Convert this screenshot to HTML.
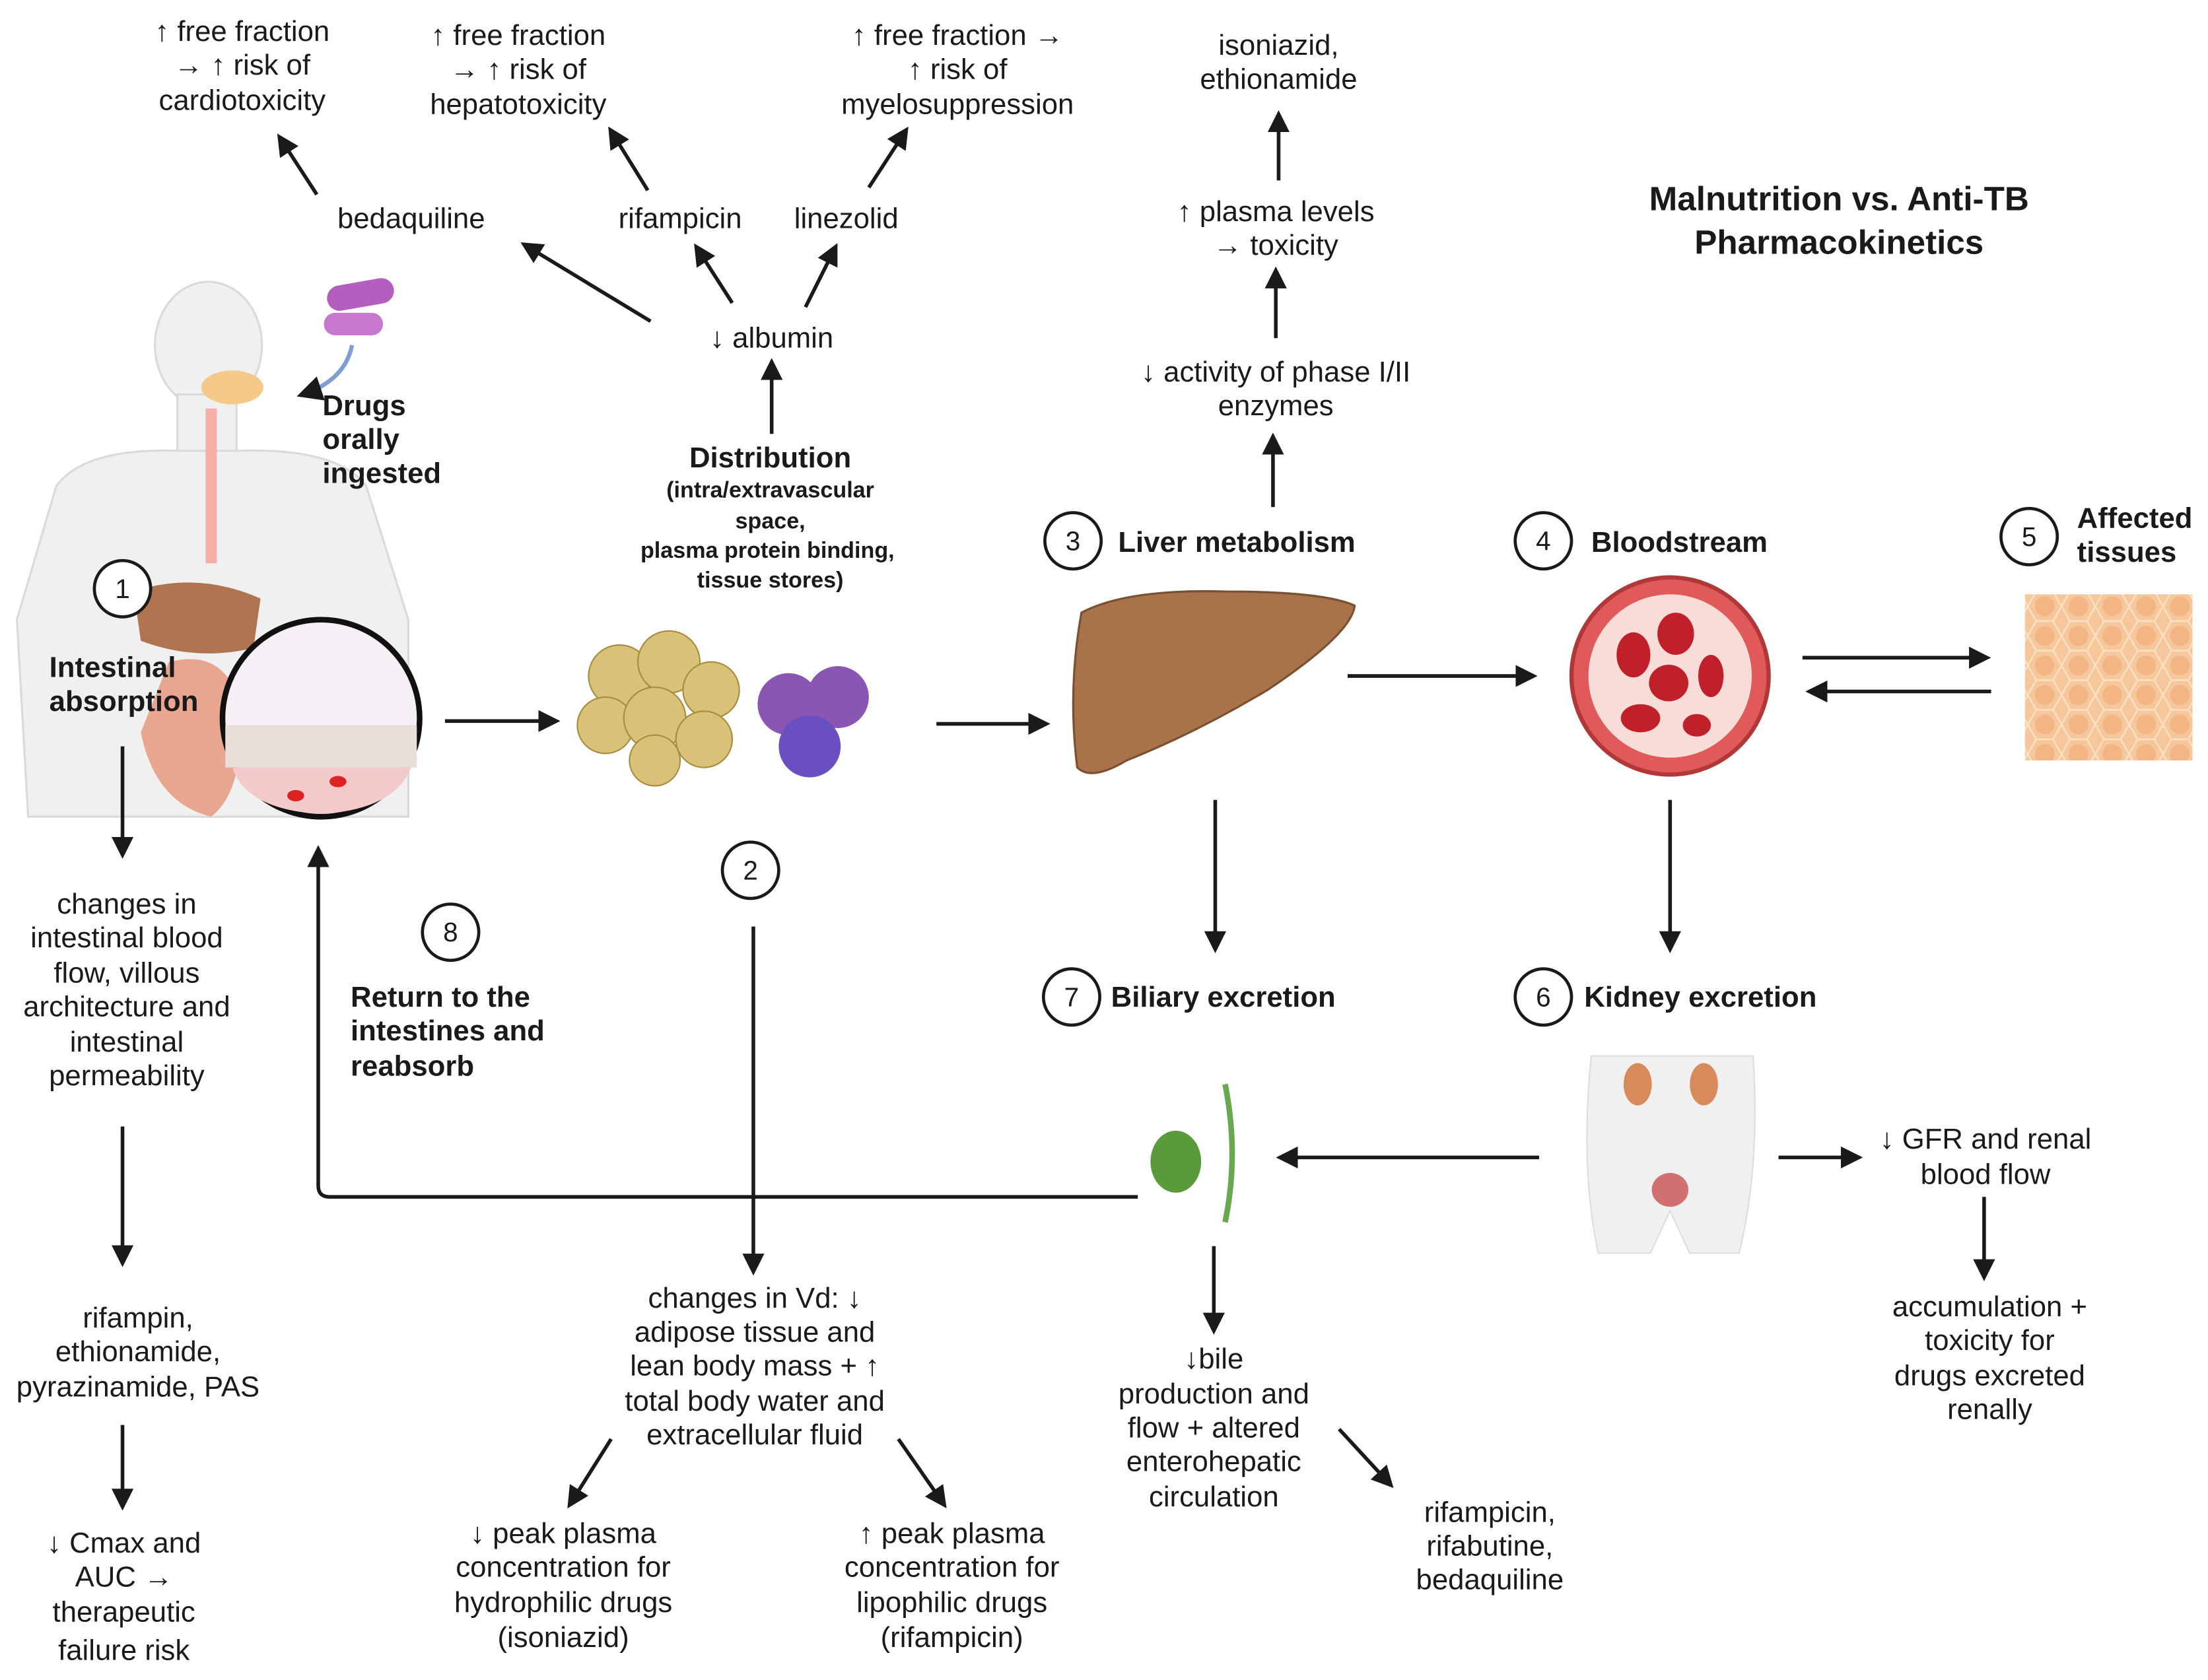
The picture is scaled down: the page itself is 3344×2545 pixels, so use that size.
<!DOCTYPE html>
<html><head><meta charset="utf-8"><style>
html,body{margin:0;padding:0;background:#fff;}
svg{display:block;}
text{font-family:"Liberation Sans",sans-serif;fill:#1a1a1a;dominant-baseline:central;}
.t{font-size:20.5px;text-anchor:middle;}
.b{font-size:20.5px;font-weight:bold;}
.s{font-size:16px;font-weight:bold;text-anchor:middle;}
.a{stroke:#1a1a1a;stroke-width:2.6;fill:none;marker-end:url(#ah);}
.c{fill:#fff;stroke:#1a1a1a;stroke-width:2.2;}
.n{font-size:19px;text-anchor:middle;}
</style></head><body>
<svg width="3344" height="2545" viewBox="0 0 1568 1193" xmlns="http://www.w3.org/2000/svg">
<defs><marker id="ah" markerWidth="6" markerHeight="6" refX="4.5" refY="3" orient="auto" markerUnits="strokeWidth"><path d="M0,0 L6,3 L0,6 z" fill="#1a1a1a"/></marker>
<pattern id="hex" width="24" height="21" patternUnits="userSpaceOnUse"><rect width="24" height="21" fill="#f6c79a"/><circle cx="12" cy="10.5" r="7" fill="#f2b583"/><path d="M6,0 L18,0 L24,10.5 L18,21 L6,21 L0,10.5Z" fill="none" stroke="#fbe0c4" stroke-width="1.2"/></pattern></defs>

<!-- body silhouette -->
<g fill="#f0f0f0" stroke="#dadada" stroke-width="1.5">
<ellipse cx="148" cy="245" rx="38" ry="45"/>
<rect x="126" y="280" width="42" height="50"/>
<path d="M40,345 Q60,318 126,320 L170,320 Q240,318 260,345 L290,440 L290,580 L20,580 L12,440 Z"/>
</g>
<path d="M150,290 L150,400" stroke="#f2b0a8" stroke-width="8" fill="none"/>
<ellipse cx="165" cy="275" rx="22" ry="12" fill="#f4c98a"/>
<path d="M95,420 Q140,405 185,425 L180,460 Q140,470 100,455 Z" fill="#b07550"/>
<path d="M120,470 Q160,460 170,500 Q175,560 150,580 Q110,570 100,520 Z" fill="#e8a58f"/>
<!-- pills -->
<rect x="232" y="200" width="48" height="18" rx="9" fill="#b45fc0" transform="rotate(-10 256 209)"/>
<rect x="230" y="222" width="42" height="16" rx="8" fill="#c777cf"/>
<path d="M250,245 Q245,270 215,280" stroke="#7f9ed6" stroke-width="3" fill="none" marker-end="url(#ah)"/>
<!-- gut circle -->
<circle cx="228" cy="510" r="70" fill="#f6f0f6" stroke="#111" stroke-width="4"/>
<rect x="160" y="515" width="136" height="30" fill="#e8e0d8"/>
<path d="M165,545 L292,545 Q280,575 228,578 Q175,575 165,545Z" fill="#f3c9c9"/>
<ellipse cx="240" cy="555" rx="6" ry="4" fill="#d22"/><ellipse cx="210" cy="565" rx="6" ry="4" fill="#d22"/>

<!-- fat cluster -->
<g fill="#d9c278" stroke="#a58d3e" stroke-width="1">
<circle cx="440" cy="480" r="22"/><circle cx="475" cy="470" r="22"/><circle cx="505" cy="490" r="20"/>
<circle cx="430" cy="515" r="20"/><circle cx="465" cy="510" r="22"/><circle cx="500" cy="525" r="20"/><circle cx="465" cy="540" r="18"/>
</g>
<circle cx="560" cy="500" r="22" fill="#8a56b3"/><circle cx="595" cy="495" r="22" fill="#8a56b3"/><circle cx="575" cy="530" r="22" fill="#6a4fc0"/>

<!-- liver -->
<path d="M768,435 Q800,418 870,420 Q940,420 962,430 Q960,450 900,490 Q850,520 800,540 Q775,555 765,545 Q758,490 768,435Z" fill="#a8724a" stroke="#7a5030" stroke-width="1.5"/>
<!-- blood vessel -->
<circle cx="1186" cy="480" r="70" fill="#e05a5a" stroke="#b03838" stroke-width="3"/>
<circle cx="1186" cy="480" r="58" fill="#f7dcd8"/>
<g fill="#c0202a"><ellipse cx="1160" cy="465" rx="12" ry="16"/><ellipse cx="1190" cy="450" rx="13" ry="15"/><ellipse cx="1185" cy="485" rx="14" ry="13"/><ellipse cx="1215" cy="480" rx="9" ry="15"/><ellipse cx="1165" cy="510" rx="14" ry="10"/><ellipse cx="1205" cy="515" rx="10" ry="8"/></g>
<!-- tissue -->
<rect x="1438" y="422" width="119" height="118" fill="url(#hex)"/>
<!-- kidney figure -->
<path d="M1130,750 L1245,750 Q1250,830 1235,890 L1200,890 L1186,860 L1172,890 L1135,890 Q1122,830 1130,750Z" fill="#f0f0f0" stroke="#ddd"/>
<ellipse cx="1163" cy="770" rx="10" ry="15" fill="#d98a5a"/><ellipse cx="1210" cy="770" rx="10" ry="15" fill="#d98a5a"/>
<ellipse cx="1186" cy="845" rx="13" ry="12" fill="#d07070"/>
<!-- gallbladder -->
<path d="M870,770 Q880,820 870,868" stroke="#6aa84f" stroke-width="4" fill="none"/>
<ellipse cx="835" cy="825" rx="18" ry="22" fill="#5a9a3a"/>

<!-- circles -->
<circle class="c" cx="87" cy="418" r="20"/><text class="n" x="87" y="418">1</text>
<circle class="c" cx="533" cy="618" r="20"/><text class="n" x="533" y="618">2</text>
<circle class="c" cx="762" cy="384" r="20"/><text class="n" x="762" y="384">3</text>
<circle class="c" cx="1096" cy="384" r="20"/><text class="n" x="1096" y="384">4</text>
<circle class="c" cx="1441" cy="381" r="20"/><text class="n" x="1441" y="381">5</text>
<circle class="c" cx="1096" cy="708" r="20"/><text class="n" x="1096" y="708">6</text>
<circle class="c" cx="761" cy="708" r="20"/><text class="n" x="761" y="708">7</text>
<circle class="c" cx="320" cy="662" r="20"/><text class="n" x="320" y="662">8</text>

<!-- labels -->
<text class="b" x="794" y="385">Liver metabolism</text>
<text class="b" x="1130" y="385">Bloodstream</text>
<text class="b" x="1475" y="368">Affected</text><text class="b" x="1475" y="392">tissues</text>
<text class="b" x="1125" y="708">Kidney excretion</text>
<text class="b" x="789" y="708">Biliary excretion</text>
<text class="b" x="249" y="708">Return to the</text><text class="b" x="249" y="732">intestines and</text><text class="b" x="249" y="757">reabsorb</text>
<text class="b" x="35" y="474">Intestinal</text><text class="b" x="35" y="498">absorption</text>
<text class="b" x="229" y="288">Drugs</text><text class="b" x="229" y="312">orally</text><text class="b" x="229" y="336">ingested</text>
<text class="b" x="1306" y="141" style="font-size:24px;text-anchor:middle">Malnutrition vs. Anti-TB</text>
<text class="b" x="1306" y="172" style="font-size:24px;text-anchor:middle">Pharmacokinetics</text>
<text class="b" x="547" y="325" style="text-anchor:middle">Distribution</text>
<text class="s" x="547" y="348">(intra/extravascular</text><text class="s" x="547" y="370">space,</text>
<text class="s" x="545" y="391">plasma protein binding,</text><text class="s" x="547" y="412">tissue stores)</text>

<!-- top texts -->
<text class="t" x="172" y="22">↑ free fraction</text><text class="t" x="172" y="46">→ ↑ risk of</text><text class="t" x="172" y="71">cardiotoxicity</text>
<text class="t" x="368" y="25">↑ free fraction</text><text class="t" x="368" y="49">→ ↑ risk of</text><text class="t" x="368" y="74">hepatotoxicity</text>
<text class="t" x="680" y="25">↑ free fraction →</text><text class="t" x="680" y="49">↑ risk of</text><text class="t" x="680" y="74">myelosuppression</text>
<text class="t" x="908" y="32">isoniazid,</text><text class="t" x="908" y="56">ethionamide</text>
<text class="t" x="292" y="155">bedaquiline</text><text class="t" x="483" y="155">rifampicin</text><text class="t" x="601" y="155">linezolid</text>
<text class="t" x="548" y="240">↓ albumin</text>
<text class="t" x="906" y="150">↑ plasma levels</text><text class="t" x="906" y="174">→ toxicity</text>
<text class="t" x="906" y="264">↓ activity of phase I/II</text><text class="t" x="906" y="288">enzymes</text>

<text class="t" x="90" y="642">changes in</text><text class="t" x="90" y="666">intestinal blood</text><text class="t" x="90" y="691">flow, villous</text><text class="t" x="90" y="715">architecture and</text><text class="t" x="90" y="740">intestinal</text><text class="t" x="90" y="764">permeability</text>
<text class="t" x="98" y="936">rifampin,</text><text class="t" x="98" y="960">ethionamide,</text><text class="t" x="98" y="985">pyrazinamide, PAS</text>
<text class="t" x="88" y="1096">↓ Cmax and</text><text class="t" x="88" y="1120">AUC →</text><text class="t" x="88" y="1145">therapeutic</text><text class="t" x="88" y="1172">failure risk</text>
<text class="t" x="536" y="922">changes in Vd: ↓</text><text class="t" x="536" y="946">adipose tissue and</text><text class="t" x="536" y="970">lean body mass + ↑</text><text class="t" x="536" y="995">total body water and</text><text class="t" x="536" y="1019">extracellular fluid</text>
<text class="t" x="400" y="1089">↓ peak plasma</text><text class="t" x="400" y="1113">concentration for</text><text class="t" x="400" y="1138">hydrophilic drugs</text><text class="t" x="400" y="1163">(isoniazid)</text>
<text class="t" x="676" y="1089">↑ peak plasma</text><text class="t" x="676" y="1113">concentration for</text><text class="t" x="676" y="1138">lipophilic drugs</text><text class="t" x="676" y="1163">(rifampicin)</text>
<text class="t" x="862" y="965">↓bile</text><text class="t" x="862" y="990">production and</text><text class="t" x="862" y="1014">flow + altered</text><text class="t" x="862" y="1038">enterohepatic</text><text class="t" x="862" y="1063">circulation</text>
<text class="t" x="1058" y="1074">rifampicin,</text><text class="t" x="1058" y="1098">rifabutine,</text><text class="t" x="1058" y="1122">bedaquiline</text>
<text class="t" x="1410" y="809">↓ GFR and renal</text><text class="t" x="1410" y="834">blood flow</text>
<text class="t" x="1413" y="928">accumulation +</text><text class="t" x="1413" y="952">toxicity for</text><text class="t" x="1413" y="977">drugs excreted</text><text class="t" x="1413" y="1001">renally</text>

<!-- arrows -->
<line class="a" x1="225" y1="138" x2="199" y2="98"/>
<line class="a" x1="460" y1="135" x2="434" y2="93"/>
<line class="a" x1="617" y1="133" x2="643" y2="93"/>
<line class="a" x1="462" y1="228" x2="373" y2="174"/>
<line class="a" x1="520" y1="215" x2="495" y2="176"/>
<line class="a" x1="572" y1="218" x2="593" y2="176"/>
<line class="a" x1="548" y1="308" x2="548" y2="258"/>
<line class="a" x1="908" y1="128" x2="908" y2="82"/>
<line class="a" x1="906" y1="240" x2="906" y2="193"/>
<line class="a" x1="904" y1="360" x2="904" y2="311"/>
<line class="a" x1="316" y1="512" x2="394" y2="512"/>
<line class="a" x1="665" y1="514" x2="742" y2="514"/>
<line class="a" x1="957" y1="480" x2="1088" y2="480"/>
<line class="a" x1="1280" y1="467" x2="1410" y2="467"/>
<line class="a" x1="1414" y1="491" x2="1286" y2="491"/>
<line class="a" x1="863" y1="568" x2="863" y2="673"/>
<line class="a" x1="1186" y1="568" x2="1186" y2="673"/>
<line class="a" x1="1093" y1="822" x2="910" y2="822"/>
<path class="a" d="M808,850 L234,850 Q226,850 226,842 L226,604"/>
<line class="a" x1="535" y1="658" x2="535" y2="902"/>
<line class="a" x1="862" y1="885" x2="862" y2="944"/>
<line class="a" x1="951" y1="1015" x2="987" y2="1054"/>
<line class="a" x1="87" y1="530" x2="87" y2="606"/>
<line class="a" x1="87" y1="800" x2="87" y2="896"/>
<line class="a" x1="87" y1="1012" x2="87" y2="1069"/>
<line class="a" x1="434" y1="1022" x2="405" y2="1068"/>
<line class="a" x1="638" y1="1022" x2="670" y2="1068"/>
<line class="a" x1="1263" y1="822" x2="1319" y2="822"/>
<line class="a" x1="1409" y1="850" x2="1409" y2="906"/>
</svg>
</body></html>
